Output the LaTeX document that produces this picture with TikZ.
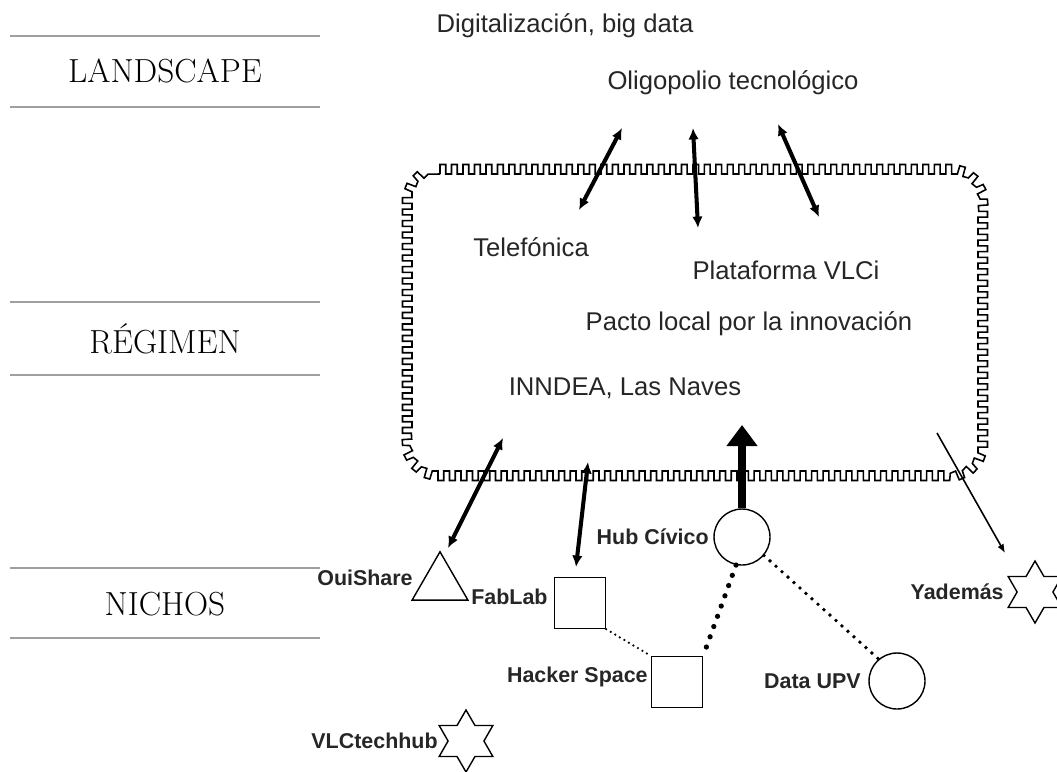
\documentclass[tikz,border=0pt]{standalone}
\usepackage{fontspec}
\setsansfont{Liberation Sans}
\usepackage{tikz}
\usetikzlibrary{arrows.meta,shapes.geometric,decorations}

\pgfdeclaredecoration{merlon}{up}{
	\state{up}[width=\pgfdecorationsegmentlength]{
		\pgfpathlineto{\pgfpoint{0pt}{\pgfdecorationsegmentamplitude}}
		\pgfpathlineto{\pgfpoint{0.5\pgfdecorationsegmentlength}{\pgfdecorationsegmentamplitude}}
		\pgfpathlineto{\pgfpoint{0.5\pgfdecorationsegmentlength}{0pt}}
		\pgfpathlineto{\pgfpoint{\pgfdecorationsegmentlength}{0pt}}
	}
	\state{final}{\pgfpathlineto{\pgfpointdecoratedpathlast}}
}

\begin{document}
\begin{tikzpicture}[x=0.02cm, y=0.02cm]
				\tikzstyle{every node}+=[inner sep=0pt, text=black!85]
				\tikzstyle{level}=[font=\fontsize{19}{22}\selectfont, text=black]
				\tikzstyle{sep}=[gray!75, line width=1.1pt]
				\tikzstyle{txt}=[font=\sffamily\fontsize{14.6}{16}\selectfont]
				\tikzstyle{lab}=[font=\sffamily\bfseries\fontsize{12.2}{14}\selectfont]
				\tikzstyle{niche}=[draw=black, line width=0.8pt, fill=white]
				\tikzstyle{link}=[line width=2.3pt, {Latex[length=6.5pt,width=6pt]}-{Latex[length=6.5pt,width=6pt]}]
				\clip (0,0) rectangle (1057,-771);
				% niveles
				\draw [sep] (10,-36) -- (320,-36);
				\draw [sep] (10,-107) -- (320,-107);
				\node [level] (landscape) at (165,-71) {LANDSCAPE};
				\draw [sep] (10,-302) -- (320,-302);
				\draw [sep] (10,-375) -- (320,-375);
				\node [level] (regimen) at (165,-339) {RÉGIMEN};
				\draw [sep] (10,-568) -- (320,-568);
				\draw [sep] (10,-638) -- (320,-638);
				\node [level] (nichos) at (165,-604) {NICHOS};
				% regimen
				\draw [line width=0.9pt, decorate, decoration={merlon, amplitude=0.19cm, segment length=0.23cm}]
					(440,-174) -- (950,-174) arc [start angle=90, end angle=0, radius=28]
					-- (978,-443) arc [start angle=0, end angle=-90, radius=28]
					-- (440,-471) arc [start angle=-90, end angle=-180, radius=28]
					-- (412,-202) arc [start angle=180, end angle=90, radius=28] -- cycle;
				\node [txt] (digital) at (565,-26) {Digitalización, big data};
				\node [txt] (oligo) at (733,-83) {Oligopolio tecnológico};
				\node [txt] (telef) at (531,-247) {Telefónica};
				\node [txt] (vlci) at (786,-270) {Plataforma VLCi};
				\node [txt] (pacto) at (749,-324) {Pacto local por la innovación};
				\node [txt] (inndea) at (625,-388) {INNDEA, Las Naves};
				% nichos
				\node [niche, circle, minimum size=1.12cm] (hub) at (742,-537) {};
				\node [niche, regular polygon, regular polygon sides=3, minimum size=1.29cm] (oui) at (440,-584) {};
				\node [niche, rectangle, minimum size=1.02cm] (fab) at (580,-603) {};
				\node [niche, rectangle, minimum size=1.02cm] (hack) at (677,-682) {};
				\node [niche, circle, minimum size=1.12cm] (upv) at (897,-681) {};
				\node [niche, star, star points=6, star point ratio=1.73, minimum size=1.24cm] (yad) at (1035,-592) {};
				\node [niche, star, star points=6, star point ratio=1.73, minimum size=1.24cm] (vlct) at (466,-741) {};
				\node [lab, anchor=east] (hublab) at (709,-537) {Hub Cívico};
				\node [lab, anchor=east] (ouilab) at (413,-578) {OuiShare};
				\node [lab, anchor=west] (fablab) at (471,-597) {FabLab};
				\node [lab, anchor=east] (hacklab) at (648,-677) {Hacker Space};
				\node [lab, anchor=east] (upvlab) at (861,-681) {Data UPV};
				\node [lab, anchor=east] (yadlab) at (1004,-592) {Yademás};
				\node [lab, anchor=east] (vlctlab) at (438,-741) {VLCtechhub};
				% flechas
				\coordinate (t1) at (622,-128);
				\coordinate (b1) at (579,-210);
				\coordinate (t2) at (693,-128);
				\coordinate (b2) at (698,-228);
				\coordinate (t3) at (778,-124);
				\coordinate (b3) at (819,-217);
				\coordinate (t4) at (503,-438);
				\coordinate (b4) at (448,-548);
				\coordinate (t5) at (588,-462);
				\coordinate (b5) at (576,-567);
				\coordinate (t6) at (742,-425);
				\coordinate (t7) at (937,-433);
				\coordinate (b7) at (1005,-553);
				\draw [link] (t1) -- (b1);
				\draw [link] (t2) -- (b2);
				\draw [link] (t3) -- (b3);
				\draw [link] (t4) -- (b4);
				\draw [link] (t5) -- (b5);
				\draw [line width=4.5pt, -{Triangle[length=12pt,width=17pt]}] (hub.north) -- (t6);
				\draw [line width=0.9pt, -{Latex[length=5pt,width=4pt]}] (t7) -- (b7);
				% enlaces
				\draw [line width=1.4pt, line cap=round, dash pattern=on 0pt off 3pt] (fab.south east) -- (hack.north west);
				\draw [line width=3pt, line cap=round, dash pattern=on 0pt off 6.2pt] (hub.258) -- (hack.north east);
				\draw [line width=2.2pt, line cap=round, dash pattern=on 0pt off 4.6pt] (hub.-40) -- (upv.130);
			\end{tikzpicture}
\end{document}
